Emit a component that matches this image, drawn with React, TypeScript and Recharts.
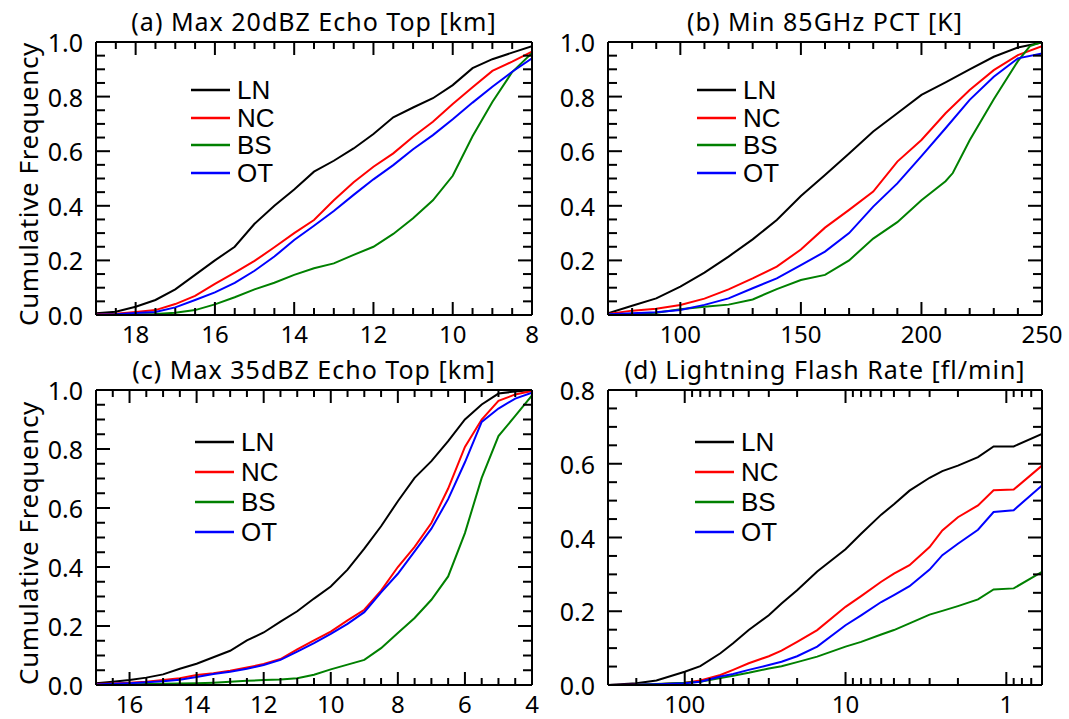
import React from "react";
import { LineChart, Line, XAxis, YAxis } from "recharts";

// ---------- (a) Max 20dBZ Echo Top [km] ----------
const aX = [19, 18.5, 18, 17.5, 17, 16.5, 16, 15.5, 15, 14.5, 14, 13.5, 13, 12.5, 12, 11.5, 11, 10.5, 10, 9.5, 9, 8.5, 8];
const aLN = [0.006, 0.012, 0.03, 0.055, 0.094, 0.147, 0.2, 0.25, 0.334, 0.4, 0.46, 0.525, 0.565, 0.61, 0.663, 0.724, 0.76, 0.794, 0.842, 0.904, 0.937, 0.961, 0.985];
const aNC = [0.002, 0.005, 0.011, 0.018, 0.04, 0.07, 0.114, 0.155, 0.198, 0.248, 0.3, 0.348, 0.42, 0.486, 0.543, 0.592, 0.653, 0.708, 0.773, 0.834, 0.894, 0.928, 0.965];
const aBS = [0, 0.001, 0.002, 0.004, 0.008, 0.018, 0.039, 0.065, 0.094, 0.118, 0.147, 0.171, 0.189, 0.22, 0.25, 0.297, 0.354, 0.42, 0.51, 0.655, 0.78, 0.89, 0.96];
const aOT = [0.001, 0.003, 0.007, 0.011, 0.028, 0.055, 0.083, 0.118, 0.162, 0.214, 0.275, 0.327, 0.381, 0.44, 0.497, 0.549, 0.607, 0.659, 0.717, 0.778, 0.836, 0.891, 0.94];

// ---------- (b) Min 85GHz PCT [K] ----------
const bX = [70, 80, 90, 100, 110, 120, 130, 140, 150, 160, 170, 180, 190, 200, 210, 220, 230, 240, 250];
const bLN = [0.006, 0.034, 0.061, 0.104, 0.155, 0.214, 0.277, 0.348, 0.436, 0.513, 0.592, 0.672, 0.739, 0.806, 0.852, 0.9, 0.946, 0.98, 0.998];
const bNC = [0.004, 0.016, 0.023, 0.037, 0.06, 0.094, 0.134, 0.177, 0.24, 0.32, 0.385, 0.452, 0.562, 0.641, 0.739, 0.824, 0.897, 0.952, 0.985];
const bOT = [0.003, 0.006, 0.01, 0.018, 0.037, 0.061, 0.098, 0.134, 0.183, 0.232, 0.3, 0.397, 0.482, 0.582, 0.684, 0.788, 0.873, 0.94, 0.958];
const bXBS = [70, 80, 90, 100, 110, 120, 130, 140, 150, 160, 170, 180, 190, 200, 210, 213, 220, 230, 240, 245, 250];
const bBS = [0.002, 0.004, 0.008, 0.021, 0.03, 0.038, 0.057, 0.095, 0.128, 0.147, 0.2, 0.28, 0.34, 0.42, 0.49, 0.52, 0.64, 0.79, 0.93, 0.985, 1.0];

// ---------- (c) Max 35dBZ Echo Top [km] ----------
const cX = [17, 16.5, 16, 15.5, 15, 14.5, 14, 13.5, 13, 12.5, 12, 11.5, 11, 10.5, 10, 9.5, 9, 8.5, 8, 7.5, 7, 6.5, 6, 5.5, 5, 4.5, 4];
const cLN = [0.006, 0.011, 0.017, 0.025, 0.036, 0.055, 0.072, 0.094, 0.116, 0.151, 0.178, 0.215, 0.25, 0.293, 0.334, 0.391, 0.462, 0.538, 0.623, 0.702, 0.759, 0.827, 0.9, 0.951, 0.988, 0.995, 1.0];
const cNC = [0.003, 0.005, 0.008, 0.011, 0.017, 0.023, 0.034, 0.04, 0.048, 0.059, 0.071, 0.088, 0.121, 0.151, 0.181, 0.219, 0.255, 0.32, 0.4, 0.468, 0.549, 0.666, 0.807, 0.9, 0.963, 0.985, 0.997];
const cBS = [0, 0.001, 0.002, 0.003, 0.004, 0.005, 0.006, 0.008, 0.011, 0.014, 0.017, 0.019, 0.023, 0.035, 0.053, 0.069, 0.085, 0.125, 0.176, 0.227, 0.289, 0.368, 0.515, 0.702, 0.844, 0.912, 0.982];
const cOT = [0.002, 0.004, 0.006, 0.009, 0.013, 0.018, 0.027, 0.037, 0.045, 0.055, 0.068, 0.085, 0.113, 0.142, 0.173, 0.207, 0.247, 0.314, 0.377, 0.453, 0.53, 0.63, 0.755, 0.892, 0.937, 0.971, 0.991];

// ---------- (d) Lightning Flash Rate [fl/min] ----------
const dX = [300, 200, 150, 100, 80, 60, 50, 40, 30, 25, 20, 15, 10, 8, 6, 5, 4, 3, 2.5, 2, 1.5, 1.2, 0.9, 0.6];
const dLN = [0, 0.005, 0.012, 0.036, 0.051, 0.086, 0.113, 0.149, 0.189, 0.221, 0.257, 0.308, 0.368, 0.41, 0.462, 0.49, 0.527, 0.562, 0.58, 0.595, 0.618, 0.647, 0.647, 0.681];
const dNC = [0, 0.001, 0.002, 0.006, 0.012, 0.027, 0.041, 0.059, 0.078, 0.093, 0.117, 0.149, 0.212, 0.241, 0.28, 0.302, 0.325, 0.374, 0.419, 0.455, 0.487, 0.528, 0.53, 0.595];
const dBS = [0, 0.001, 0.003, 0.006, 0.009, 0.019, 0.025, 0.033, 0.045, 0.051, 0.062, 0.077, 0.104, 0.117, 0.137, 0.149, 0.167, 0.191, 0.201, 0.214, 0.232, 0.259, 0.262, 0.307];
const dOT = [0, 0.001, 0.002, 0.005, 0.009, 0.023, 0.03, 0.041, 0.054, 0.063, 0.078, 0.104, 0.162, 0.189, 0.225, 0.244, 0.268, 0.313, 0.352, 0.383, 0.421, 0.469, 0.474, 0.541];

// ---------- ticks ----------
const aMajor = [18, 16, 14, 12, 10, 8];
const bMajor = [100, 150, 200, 250];
const cMajor = [16, 14, 12, 10, 8, 6, 4];
const dMajor = [100, 10, 1];
const dMinor = [300, 200, 90, 80, 70, 60, 50, 40, 30, 20, 9, 8, 7, 6, 5, 4, 3, 2, 0.9, 0.8, 0.7, 0.6];
const yMajor = [0, 0.2, 0.4, 0.6, 0.8, 1.0];
const dYMajor = [0, 0.2, 0.4, 0.6, 0.8];
const ORDER = ["LN", "NC", "BS", "OT"];

const range = (a: number, b: number, step: number) => {
  const out: number[] = [];
  const n = Math.round((b - a) / step);
  for (let i = 0; i <= n; i++) out.push(+(a + i * step).toFixed(6));
  return out;
};
const isIn = (v: number, list: number[]) => list.some((m) => Math.abs(m - v) < 1e-9 + Math.abs(m) * 1e-6);

const FONT = '"Noto Sans", "Open Sans", sans-serif';
const COLORS: Record<string, string> = { LN: "#000000", NC: "#ff0000", BS: "#008000", OT: "#0000ff" };
const TS = 6; // recharts tickSize
const TM = 2; // recharts tickMargin
const GAP = TS + TM;
const X_MAJ = 13;
const X_MIN = 7;
const Y_MAJ = 14;
const Y_MIN = 9;

const pts = (xs: number[], ys: number[]) => xs.map((x, i) => ({ x, y: ys[i] }));

// tick labels (bottom / left)
const xLabel = (props: any) => (
  <text x={props.x} y={props.y - GAP + 18} textAnchor="middle" dominantBaseline="central" fontSize={24} fontFamily={FONT} fill="#000">
    {String(props.payload.value)}
  </text>
);
const yLabel = (props: any) => (
  <text x={props.x + GAP - 13} y={props.y} textAnchor="end" dominantBaseline="central" fontSize={25} fontFamily={FONT} fill="#000">
    {Number(props.payload.value).toFixed(1)}
  </text>
);

interface Series {
  name: string;
  xs: number[];
  ys: number[];
}

interface PanelCfg {
  title: string;
  plotLeft: number;
  plotTop: number;
  plotW: number;
  plotH: number;
  xDomain: [number, number];
  xScale: "linear" | "log";
  reversed: boolean;
  xTicks: number[];
  xMajor: number[];
  yDomain: [number, number];
  yMajor: number[];
  legendX: number;
  legendY: number;
  rowH: number;
  yLabel: boolean;
  series: Series[];
}

const PAD = { top: 42, left: 96, right: 24, bottom: 40 };
const AX = { top: 30, left: 60, right: 20, bottom: 30 };
const M = { top: PAD.top - AX.top, left: PAD.left - AX.left, right: PAD.right - AX.right, bottom: PAD.bottom - AX.bottom };

function LegendBox({ p }: { p: PanelCfg }) {
  return (
    <div style={{ position: "absolute", left: p.legendX, top: p.legendY - p.rowH / 2 }}>
      {ORDER.map((name) => (
        <div key={name} style={{ display: "flex", alignItems: "center", height: p.rowH }}>
          <svg width={39} height={4} style={{ display: "block" }}>
            <line x1={0} x2={39} y1={2} y2={2} stroke={COLORS[name]} strokeWidth={2.4} />
          </svg>
          <span style={{ marginLeft: 7, fontSize: 26, fontFamily: '"Liberation Sans", Arial, sans-serif', color: "#000", lineHeight: 1 }}>
            {name}
          </span>
        </div>
      ))}
    </div>
  );
}

// inward tick marks on all four sides of the frame, same mapping as the chart's axes
function TickFrame({ p }: { p: PanelCfg }) {
  const [lo, hi] = p.xDomain;
  const [y0, y1] = p.yDomain;
  const fx = (v: number) => {
    const t = p.xScale === "log" ? (Math.log10(v) - Math.log10(lo)) / (Math.log10(hi) - Math.log10(lo)) : (v - lo) / (hi - lo);
    return (p.reversed ? 1 - t : t) * p.plotW;
  };
  const fy = (v: number) => p.plotH - ((v - y0) / (y1 - y0)) * p.plotH;
  const yTicks = range(y0, y1, 0.05);
  return (
    <svg
      width={p.plotW}
      height={p.plotH}
      style={{ position: "absolute", left: p.plotLeft, top: p.plotTop, overflow: "visible", pointerEvents: "none" }}
    >
      {p.xTicks.map((v) => {
        const x = fx(v);
        const len = isIn(v, p.xMajor) ? X_MAJ : X_MIN;
        return (
          <g key={`x${v}`}>
            <line x1={x} x2={x} y1={p.plotH} y2={p.plotH - len} stroke="#000" strokeWidth={2} />
            <line x1={x} x2={x} y1={0} y2={len} stroke="#000" strokeWidth={2} />
          </g>
        );
      })}
      {yTicks.map((v) => {
        const y = fy(v);
        const len = isIn(v, p.yMajor) ? Y_MAJ : Y_MIN;
        return (
          <g key={`y${v}`}>
            <line x1={0} x2={len} y1={y} y2={y} stroke="#000" strokeWidth={2} />
            <line x1={p.plotW} x2={p.plotW - len} y1={y} y2={y} stroke="#000" strokeWidth={2} />
          </g>
        );
      })}
    </svg>
  );
}

function Panel({ p }: { p: PanelCfg }) {
  const cw = p.plotW + PAD.left + PAD.right;
  const ch = p.plotH + PAD.top + PAD.bottom;
  const chartLeft = p.plotLeft - PAD.left;
  const chartTop = p.plotTop - PAD.top;
  const frame = { stroke: "#000", strokeWidth: 2 };
  const xc = {
    dataKey: "x",
    type: "number" as const,
    domain: p.xDomain,
    scale: p.xScale,
    reversed: p.reversed,
    interval: 0 as const,
    tickSize: TS,
    tickMargin: TM,
    tickLine: false,
    axisLine: frame,
    allowDataOverflow: true,
  };
  const yc = {
    type: "number" as const,
    domain: p.yDomain,
    interval: 0 as const,
    tickSize: TS,
    tickMargin: TM,
    tickLine: false,
    axisLine: frame,
    allowDataOverflow: true,
  };
  return (
    <>
      <div
        style={{
          position: "absolute",
          left: p.plotLeft - 60,
          width: p.plotW + 120,
          top: p.plotTop - 21 - 18,
          height: 36,
          lineHeight: "36px",
          textAlign: "center",
          fontFamily: FONT,
          fontSize: 25,
          letterSpacing: 1.0,
          color: "#000",
          whiteSpace: "nowrap",
        }}
      >
        {p.title}
      </div>
      {p.yLabel && (
        <div
          style={{
            position: "absolute",
            left: 27 - p.plotH / 2 - 40,
            width: p.plotH + 80,
            top: p.plotTop + p.plotH / 2 + 5 - 18,
            height: 36,
            lineHeight: "36px",
            textAlign: "center",
            transform: "rotate(-90deg)",
            fontFamily: FONT,
            fontSize: 26,
            letterSpacing: 0.6,
            color: "#000",
            whiteSpace: "nowrap",
          }}
        >
          Cumulative Frequency
        </div>
      )}
      <div style={{ position: "absolute", left: chartLeft, top: chartTop }}>
        <LineChart width={cw} height={ch} margin={M}>
          <XAxis xAxisId="b" orientation="bottom" height={AX.bottom} {...xc} ticks={p.xMajor} tick={xLabel} />
          <XAxis xAxisId="t" orientation="top" height={AX.top} {...xc} ticks={p.xMajor} tick={false} />
          <YAxis yAxisId="l" orientation="left" width={AX.left} {...yc} ticks={p.yMajor} tick={yLabel} />
          <YAxis yAxisId="r" orientation="right" width={AX.right} {...yc} ticks={p.yMajor} tick={false} />
          {p.series.map((s) => (
            <Line
              key={s.name}
              name={s.name}
              data={pts(s.xs, s.ys)}
              dataKey="y"
              xAxisId="b"
              yAxisId="l"
              type="linear"
              stroke={COLORS[s.name]}
              strokeWidth={2}
              dot={false}
              activeDot={false}
              isAnimationActive={false}
            />
          ))}
        </LineChart>
      </div>
      <TickFrame p={p} />
      <LegendBox p={p} />
    </>
  );
}

const panels: PanelCfg[] = [
  {
    title: "(a) Max 20dBZ Echo Top [km]",
    plotLeft: 96, plotTop: 42, plotW: 436, plotH: 273,
    xDomain: [8, 19], xScale: "linear", reversed: true,
    xTicks: range(8, 19, 0.5), xMajor: aMajor,
    yDomain: [0, 1], yMajor: yMajor,
    legendX: 191, legendY: 90, rowH: 27.5, yLabel: true,
    series: [
      { name: "LN", xs: aX, ys: aLN },
      { name: "NC", xs: aX, ys: aNC },
      { name: "BS", xs: aX, ys: aBS },
      { name: "OT", xs: aX, ys: aOT },
    ],
  },
  {
    title: "(b) Min 85GHz PCT [K]",
    plotLeft: 608, plotTop: 42, plotW: 434, plotH: 273,
    xDomain: [70, 250], xScale: "linear", reversed: false,
    xTicks: range(70, 250, 10), xMajor: bMajor,
    yDomain: [0, 1], yMajor: yMajor,
    legendX: 697, legendY: 90, rowH: 27.5, yLabel: false,
    series: [
      { name: "LN", xs: bX, ys: bLN },
      { name: "NC", xs: bX, ys: bNC },
      { name: "BS", xs: bXBS, ys: bBS },
      { name: "OT", xs: bX, ys: bOT },
    ],
  },
  {
    title: "(c) Max 35dBZ Echo Top [km]",
    plotLeft: 96, plotTop: 390, plotW: 436, plotH: 295,
    xDomain: [4, 17], xScale: "linear", reversed: true,
    xTicks: range(4, 17, 0.5), xMajor: cMajor,
    yDomain: [0, 1], yMajor: yMajor,
    legendX: 195, legendY: 442, rowH: 30, yLabel: true,
    series: [
      { name: "LN", xs: cX, ys: cLN },
      { name: "NC", xs: cX, ys: cNC },
      { name: "BS", xs: cX, ys: cBS },
      { name: "OT", xs: cX, ys: cOT },
    ],
  },
  {
    title: "(d) Lightning Flash Rate [fl/min]",
    plotLeft: 608, plotTop: 390, plotW: 434, plotH: 295,
    xDomain: [0.6, 300], xScale: "log", reversed: true,
    xTicks: [...dMajor, ...dMinor], xMajor: dMajor,
    yDomain: [0, 0.8], yMajor: dYMajor,
    legendX: 695, legendY: 442, rowH: 30, yLabel: false,
    series: [
      { name: "LN", xs: dX, ys: dLN },
      { name: "NC", xs: dX, ys: dNC },
      { name: "BS", xs: dX, ys: dBS },
      { name: "OT", xs: dX, ys: dOT },
    ],
  },
];

export default function App() {
  return (
    <div style={{ position: "absolute", left: 0, top: 0, width: 1069, height: 719, background: "#fff", overflow: "hidden" }}>
      {panels.map((p) => (
        <Panel key={p.title} p={p} />
      ))}
    </div>
  );
}
